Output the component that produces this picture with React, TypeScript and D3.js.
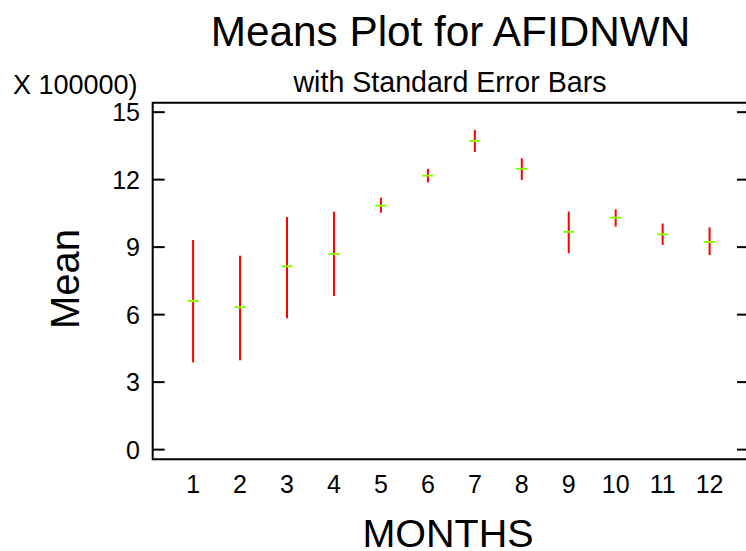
import React from "react";
import * as d3 from "d3";

const months = [1, 2, 3, 4, 5, 6, 7, 8, 9, 10, 11, 12];
const means = [6.61, 6.33, 8.15, 8.7, 10.84, 12.18, 13.72, 12.48, 9.68, 10.31, 9.57, 9.23];
const upper = [9.32, 8.62, 10.33, 10.58, 11.2, 12.48, 14.21, 12.95, 10.58, 10.68, 10.05, 9.88];
const lower = [3.88, 3.97, 5.84, 6.83, 10.53, 11.88, 13.23, 11.99, 8.73, 9.91, 9.1, 8.65];
const yTicks = [0, 3, 6, 9, 12, 15];

const W = 746;
const H = 551;
const FONT = "'Liberation Sans', Arial, Helvetica, sans-serif";

export default function App() {
  const left = 152.7;
  const right = 750;
  const top = 102.7;
  const bottom = 459.3;

  const x = d3.scaleLinear().domain([0.14, 12.86]).range([left, right]);
  const y = d3.scaleLinear().domain([-0.43, 15.42]).range([bottom, top]);

  return (
    <svg
      width={W}
      height={H}
      style={{ position: "absolute", left: 0, top: 0, background: "#fff" }}
      fontFamily={FONT}
    >
      <rect x={0} y={0} width={W} height={H} fill="#fff" />
      {/* titles */}
      <text x={450.5} y={46} textAnchor="middle" fontSize={42.3} fill="#000">
        Means Plot for AFIDNWN
      </text>
      <text x={450} y={92} textAnchor="middle" fontSize={28.6} fill="#000">
        with Standard Error Bars
      </text>
      <text x={137.5} y={94} textAnchor="end" fontSize={27} fill="#000">
        X 100000)
      </text>
      <text
        transform={`translate(79,279) rotate(-90)`}
        textAnchor="middle"
        fontSize={40}
        fill="#000"
      >
        Mean
      </text>
      <text x={448} y={547} textAnchor="middle" fontSize={39.5} fill="#000">
        MONTHS
      </text>

      {/* frame */}
      <path
        d={`M${right},${top}H${left}V${bottom}H${right}`}
        fill="none"
        stroke="#000"
        strokeWidth={2}
      />
      {/* y ticks */}
      {yTicks.map((t) => (
        <g key={t}>
          <line x1={left} x2={left + 12} y1={y(t)} y2={y(t)} stroke="#000" strokeWidth={2} />
          <line x1={737} x2={right} y1={y(t)} y2={y(t)} stroke="#000" strokeWidth={2} />
          <text
            x={140}
            y={y(t)}
            dy="0.36em"
            textAnchor="end"
            fontSize={25}
            fill="#000"
          >
            {t}
          </text>
        </g>
      ))}
      {/* x labels */}
      {months.map((m) => (
        <text key={m} x={x(m)} y={493} textAnchor="middle" fontSize={25} fill="#000">
          {m}
        </text>
      ))}
      {/* error bars */}
      {months.map((m, i) => (
        <line
          key={"e" + m}
          x1={x(m)}
          x2={x(m)}
          y1={y(upper[i])}
          y2={y(lower[i])}
          stroke="#ff0000"
          strokeWidth={2}
        />
      ))}
      {/* means */}
      {months.map((m, i) => (
        <line
          key={"m" + m}
          x1={x(m) - 5.5}
          x2={x(m) + 5.5}
          y1={y(means[i])}
          y2={y(means[i])}
          stroke="#80ff00"
          strokeWidth={2}
        />
      ))}
    </svg>
  );
}
